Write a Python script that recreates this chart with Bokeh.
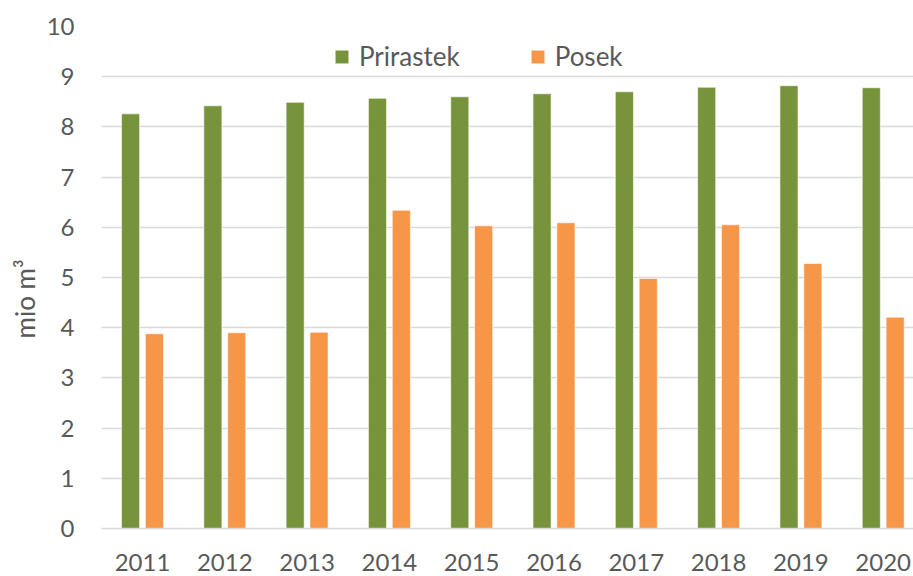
from bokeh.plotting import figure
from bokeh.models import (ColumnDataSource, Range1d, FixedTicker, Legend, LegendItem,
                          Title, BasicTickFormatter)
from bokeh.embed import file_html
from bokeh.resources import INLINE

years = [2011, 2012, 2013, 2014, 2015, 2016, 2017, 2018, 2019, 2020]
prirastek = [8.26, 8.42, 8.49, 8.57, 8.60, 8.66, 8.70, 8.79, 8.82, 8.78]
posek = [3.88, 3.90, 3.91, 6.34, 6.03, 6.09, 4.98, 6.05, 5.28, 4.21]
y_ticks = [0, 1, 2, 3, 4, 5, 6, 7, 8, 9, 10]
series_names = ["Prirastek", "Posek"]
y_label = "mio m³"

GREEN = "#77933C"
ORANGE = "#F79646"
TEXT = "#595959"
GRID = "#D9D9D9"
FONT = "Lato"

src = ColumnDataSource(dict(
    x_g=[y - 0.145 for y in years],
    x_o=[y + 0.145 for y in years],
    prirastek=prirastek,
    posek=posek,
))

p = figure(width=913, height=576, output_backend="svg", toolbar_location=None,
           x_range=Range1d(2010.502, 2020.368), y_range=Range1d(0, 10),
           min_border_left=101, min_border_right=0, min_border_top=26,
           min_border_bottom=48)
p.outline_line_color = None
p.background_fill_color = "white"
p.border_fill_color = "white"

r1 = p.vbar(x="x_g", top="prirastek", width=0.22, source=src,
            fill_color=GREEN, line_color="white", line_alpha=0.6, line_width=1)
r2 = p.vbar(x="x_o", top="posek", width=0.22, source=src,
            fill_color=ORANGE, line_color="white", line_alpha=0.6, line_width=1)

# axes
p.xaxis.ticker = FixedTicker(ticks=years)
p.xaxis.formatter = BasicTickFormatter(use_scientific=False)
p.yaxis.ticker = FixedTicker(ticks=y_ticks)
for ax in (p.xaxis, p.yaxis):
    ax.major_tick_line_color = None
    ax.minor_tick_line_color = None
    ax.major_label_text_font = FONT
    ax.major_label_text_font_size = "24px"
    ax.major_label_text_color = TEXT
p.xaxis.axis_line_color = GRID
p.xaxis.axis_line_width = 1.3
p.yaxis.axis_line_color = None
p.xaxis.major_label_standoff = 19
p.yaxis.major_label_standoff = 21

p.xgrid.grid_line_color = None
p.ygrid.ticker = FixedTicker(ticks=y_ticks)
p.ygrid.grid_line_color = GRID
p.ygrid.grid_line_width = 1.3

# y axis title (as a side title so it can be shifted along the axis)
p.add_layout(Title(text=y_label, align="left", offset=190, standoff=6,
                   text_font=FONT, text_font_size="26px", text_color=TEXT,
                   text_font_style="normal"), "left")

legend = Legend(items=[LegendItem(label=series_names[0], renderers=[r1]),
                       LegendItem(label=series_names[1], renderers=[r2])],
                orientation="horizontal", location=(232, 456),
                glyph_width=17, glyph_height=17, label_standoff=9, spacing=69,
                padding=0, margin=0, border_line_color=None,
                background_fill_color="white", background_fill_alpha=1,
                label_text_font=FONT, label_text_font_size="26px",
                label_text_color=TEXT)
p.add_layout(legend, "center")

open("out.html", "w").write(file_html(p, INLINE))
